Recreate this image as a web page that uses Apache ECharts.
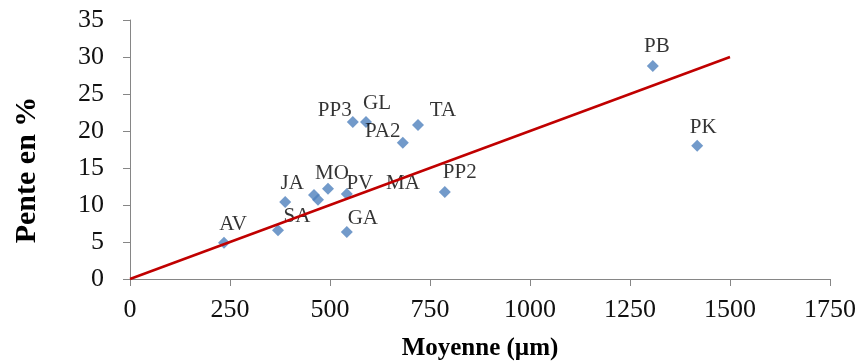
<!DOCTYPE html>
<html>
<head>
<meta charset="utf-8">
<script src="https://cdn.jsdelivr.net/npm/echarts@6/dist/echarts.min.js"></script>
<style>html,body{margin:0;padding:0;background:#fff}#c{width:865px;height:363px}</style>
</head>
<body>
<div id="c"></div>
<script>
var names = ['AV','SA','JA','','MA','MO','PV','GA','PP3','GL','PA2','TA','PP2','PB','PK'];
var moyenne = [235, 370, 388, 460, 470, 495, 542, 542, 557, 590, 682, 720, 787, 1307, 1418];
var pente = [4.9, 6.6, 10.4, 11.35, 10.7, 12.2, 11.5, 6.35, 21.2, 21.2, 18.4, 20.8, 11.75, 28.8, 18.0];
var trendX = [0, 1500];
var trendY = [0, 30];
var xTicks = {min: 0, max: 1750, interval: 250};
var yTicks = {min: 0, max: 35, interval: 5};

// label placement (style only)
var labelOffsets = {
  AV:[9,-4], SA:[19,1], JA:[7,-4], MA:[85,-2], MO:[4,-1], PV:[13,4], GA:[16,1],
  PP3:[-18,3], GL:[11,-4], PA2:[-20,3], TA:[25,0], PP2:[15,-5], PB:[4,-5], PK:[6,-4]
};

var font = '"Liberation Serif", "Times New Roman", serif';
var pts = names.map(function(n, i){
  var o = labelOffsets[n] || [0,0];
  var item = {value:[moyenne[i], pente[i]], name:n};
  item.label = {show: n !== '', offset: [o[0], o[1] + 7]};
  return item;
});
var chart = echarts.init(document.getElementById('c'), null, {renderer:'canvas'});
chart.setOption({
  animation:false,
  grid:{left:130, right:35, top:20, bottom:84, containLabel:false, outerBoundsMode:'none'},
  xAxis:{type:'value', min:xTicks.min, max:xTicks.max, interval:xTicks.interval,
    name:'Moyenne (µm)', nameLocation:'middle', nameGap:57,
    nameTextStyle:{fontFamily:font, fontWeight:'bold', fontSize:25, color:'#000'},
    axisLine:{show:true, lineStyle:{color:'#868686', width:1}},
    axisTick:{show:true, inside:false, length:7, lineStyle:{color:'#868686'}},
    axisLabel:{fontFamily:font, fontSize:26, color:'#111', margin:18, formatter:function(v){return String(v);}},
    splitLine:{show:false}},
  yAxis:{type:'value', min:yTicks.min, max:yTicks.max, interval:yTicks.interval,
    axisLine:{show:true, lineStyle:{color:'#868686', width:1}},
    axisTick:{show:true, inside:false, length:7, lineStyle:{color:'#868686'}},
    axisLabel:{fontFamily:font, fontSize:26, color:'#111', margin:26, formatter:function(v){return String(v);}},
    splitLine:{show:false}},
  graphic:[{type:'text', x:27, y:170, rotation:Math.PI/2,
    style:{text:'Pente en %', font:'bold 30px ' + font, fill:'#000', textAlign:'center', textVerticalAlign:'middle'}}],
  series:[
    {type:'line', data:trendX.map(function(x,i){return [x, trendY[i]];}), showSymbol:false, symbol:'none',
      lineStyle:{color:'#C00000', width:2.5}, z:3, silent:true},
    {type:'scatter', data:pts, symbol:'diamond', symbolSize:12,
      itemStyle:{color:'#4F81BD'}, z:2,
      label:{show:true, position:'top', distance:5, formatter:'{b}', fontFamily:font, fontSize:21, color:'#000'}}
  ]
});
</script>
</body>
</html>
